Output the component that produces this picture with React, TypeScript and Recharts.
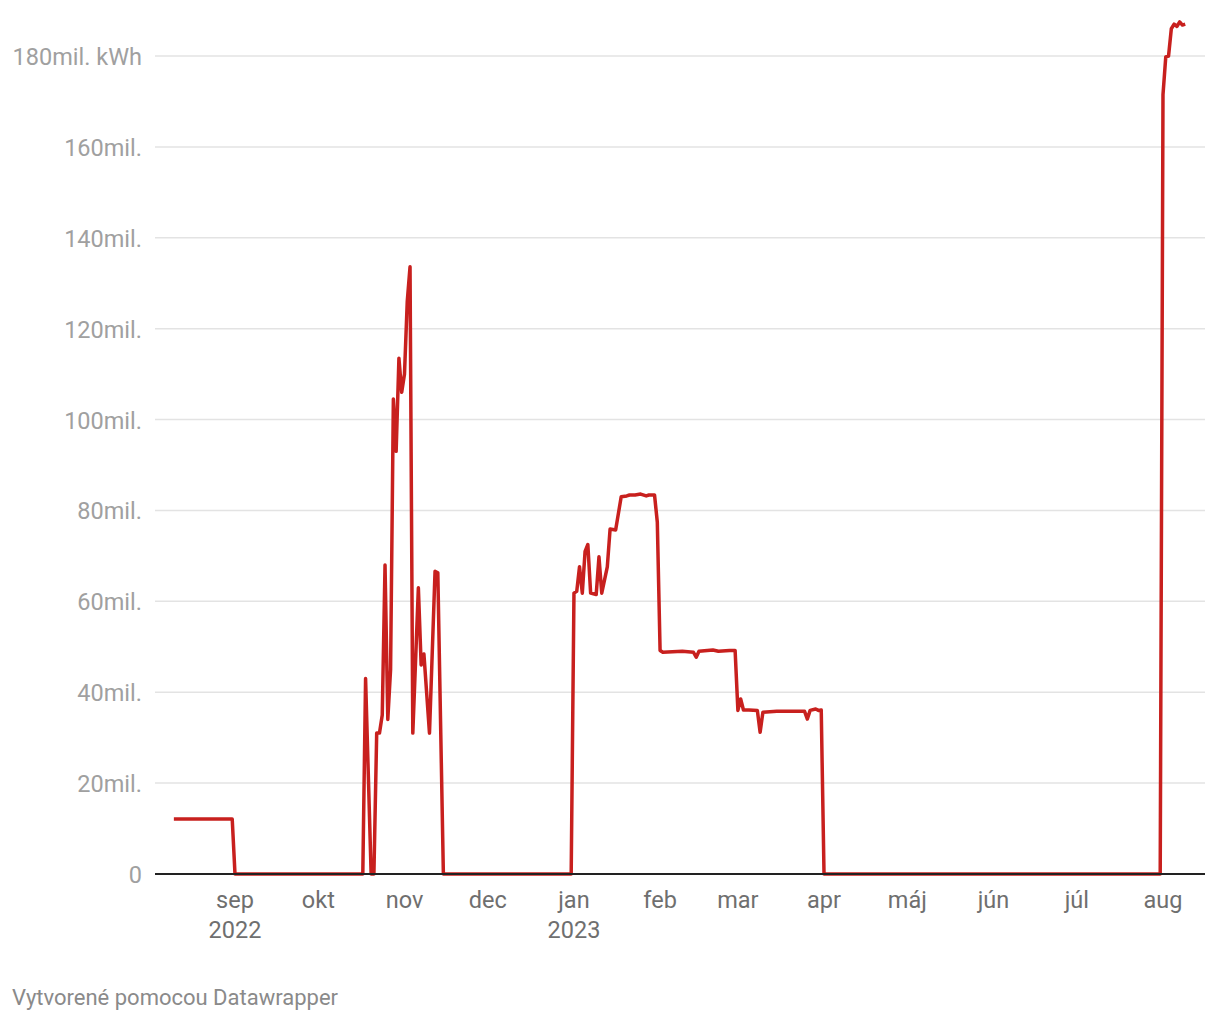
import React from 'react';
import { LineChart, Line, XAxis, YAxis, CartesianGrid } from 'recharts';

const dates: string[] = [
  '2022-08-10', '2022-08-31', '2022-09-01', '2022-10-17', '2022-10-18', '2022-10-20', '2022-10-21',
  '2022-10-22', '2022-10-23', '2022-10-24', '2022-10-25', '2022-10-26', '2022-10-27', '2022-10-28',
  '2022-10-29', '2022-10-30', '2022-10-31', '2022-11-01', '2022-11-02', '2022-11-03', '2022-11-04',
  '2022-11-06', '2022-11-07', '2022-11-08', '2022-11-10', '2022-11-12', '2022-11-13', '2022-11-15',
  '2022-12-31', '2023-01-01', '2023-01-02', '2023-01-03', '2023-01-04', '2023-01-05', '2023-01-06',
  '2023-01-07', '2023-01-09', '2023-01-10', '2023-01-11', '2023-01-13', '2023-01-14', '2023-01-16',
  '2023-01-18', '2023-01-20', '2023-01-21', '2023-01-23', '2023-01-25', '2023-01-27', '2023-01-28',
  '2023-01-30', '2023-01-31', '2023-02-01', '2023-02-02', '2023-02-09', '2023-02-13', '2023-02-14',
  '2023-02-15', '2023-02-20', '2023-02-22', '2023-02-26', '2023-02-28', '2023-03-01', '2023-03-02',
  '2023-03-03', '2023-03-05', '2023-03-08', '2023-03-09', '2023-03-10', '2023-03-15', '2023-03-20',
  '2023-03-25', '2023-03-26', '2023-03-27', '2023-03-29', '2023-03-30', '2023-03-31', '2023-04-01',
  '2023-07-31', '2023-08-01', '2023-08-02', '2023-08-03', '2023-08-04', '2023-08-05', '2023-08-06',
  '2023-08-07', '2023-08-08', '2023-08-09',
];

// million kWh
const values: number[] = [
  12.1, 12.1, 0, 0, 43, 0, 0,
  31, 31, 35, 68, 34, 45, 104.5,
  93, 113.5, 106, 110, 126, 133.6, 31,
  63, 46, 48.4, 31, 66.6, 66.3, 0,
  0, 61.8, 62.2, 67.6, 61.8, 71, 72.5,
  61.8, 61.5, 69.8, 61.8, 67.6, 75.9, 75.7,
  83, 83.2, 83.4, 83.4, 83.6, 83.2, 83.4,
  83.4, 77.4, 49.2, 48.8, 49, 48.8, 47.7,
  49, 49.3, 49, 49.2, 49.2, 36, 38.5,
  36.1, 36.1, 36, 31.2, 35.6, 35.8, 35.8,
  35.8, 34.1, 36, 36.3, 36, 36.1, 0,
  0, 171.5, 179.8, 180, 186, 187, 186.5,
  187.5, 186.8, 187,
];

const tickDates: string[] = [
  '2022-09-01', '2022-10-01', '2022-11-01', '2022-12-01', '2023-01-01', '2023-02-01',
  '2023-03-01', '2023-04-01', '2023-05-01', '2023-06-01', '2023-07-01', '2023-08-01',
];
const tickLabels: string[] = ['sep', 'okt', 'nov', 'dec', 'jan', 'feb', 'mar', 'apr', 'máj', 'jún', 'júl', 'aug'];
const tickYears: string[] = ['2022', '', '', '', '2023', '', '', '', '', '', '', ''];

const yTicks: number[] = [0, 20, 40, 60, 80, 100, 120, 140, 160, 180];

const ORIGIN = Date.UTC(2022, 8, 1);
const dayIndex = (s: string) => {
  const [y, m, d] = s.split('-').map(Number);
  return Math.round((Date.UTC(y, m - 1, d) - ORIGIN) / 86400000);
};

const data = dates.map((d, i) => ({ day: dayIndex(d), value: values[i] }));
const xTicks = tickDates.map(dayIndex);

const FONT = 'Roboto, "Noto Sans", sans-serif';

const fmtY = (v: number) => {
  if (v === 0) return '0';
  if (v === 180) return '180mil. kWh';
  return `${v}mil.`;
};

const YTick = (props: any) => {
  const { x, y, payload } = props;
  return (
    <text x={x} y={y} dy={9} textAnchor="end" fill="#a0a0a0" fontSize={23.5} fontFamily={FONT}>
      {fmtY(payload.value)}
    </text>
  );
};

const XTick = (props: any) => {
  const { x, y, payload } = props;
  const idx = xTicks.indexOf(payload.value);
  return (
    <g>
      <text x={x} y={y + 34} textAnchor="middle" fill="#6f6f6f" fontSize={23.5} fontFamily={FONT}>
        {tickLabels[idx]}
      </text>
      {tickYears[idx] ? (
        <text x={x} y={y + 64} textAnchor="middle" fill="#6f6f6f" fontSize={23.5} fontFamily={FONT}>
          {tickYears[idx]}
        </text>
      ) : null}
    </g>
  );
};

export default function App() {
  return (
    <div style={{ position: 'absolute', left: 0, top: 0, width: 1220, height: 1020, background: '#fff' }}>
      <LineChart
        width={1220}
        height={1020}
        data={data}
        margin={{ top: 10.56, right: 15, bottom: 66, left: 0 }}
      >
        <CartesianGrid vertical={false} horizontalValues={yTicks} stroke="#e3e3e3" strokeWidth={1.5} />
        <XAxis
          dataKey="day"
          type="number"
          domain={[-28.79, 349.12]}
          ticks={xTicks}
          interval={0}
          height={80}
          tickLine={false}
          tickSize={0}
          tickMargin={0}
          axisLine={{ stroke: '#222', strokeWidth: 2 }}
          tick={<XTick />}
        />
        <YAxis
          type="number"
          domain={[0, 190]}
          ticks={yTicks}
          interval={0}
          width={155}
          axisLine={false}
          tickLine={false}
          tickSize={0}
          tickMargin={13}
          tick={<YTick />}
        />
        <Line
          type="linear"
          dataKey="value"
          stroke="#c8201e"
          strokeWidth={3.5}
          dot={false}
          isAnimationActive={false}
          strokeLinejoin="round"
        />
      </LineChart>
      <div
        style={{
          position: 'absolute',
          left: 12,
          top: 987,
          fontFamily: FONT,
          fontSize: 22,
          lineHeight: 1,
          color: '#8a8a8a',
          whiteSpace: 'nowrap',
        }}
      >
        Vytvorené pomocou Datawrapper
      </div>
    </div>
  );
}
